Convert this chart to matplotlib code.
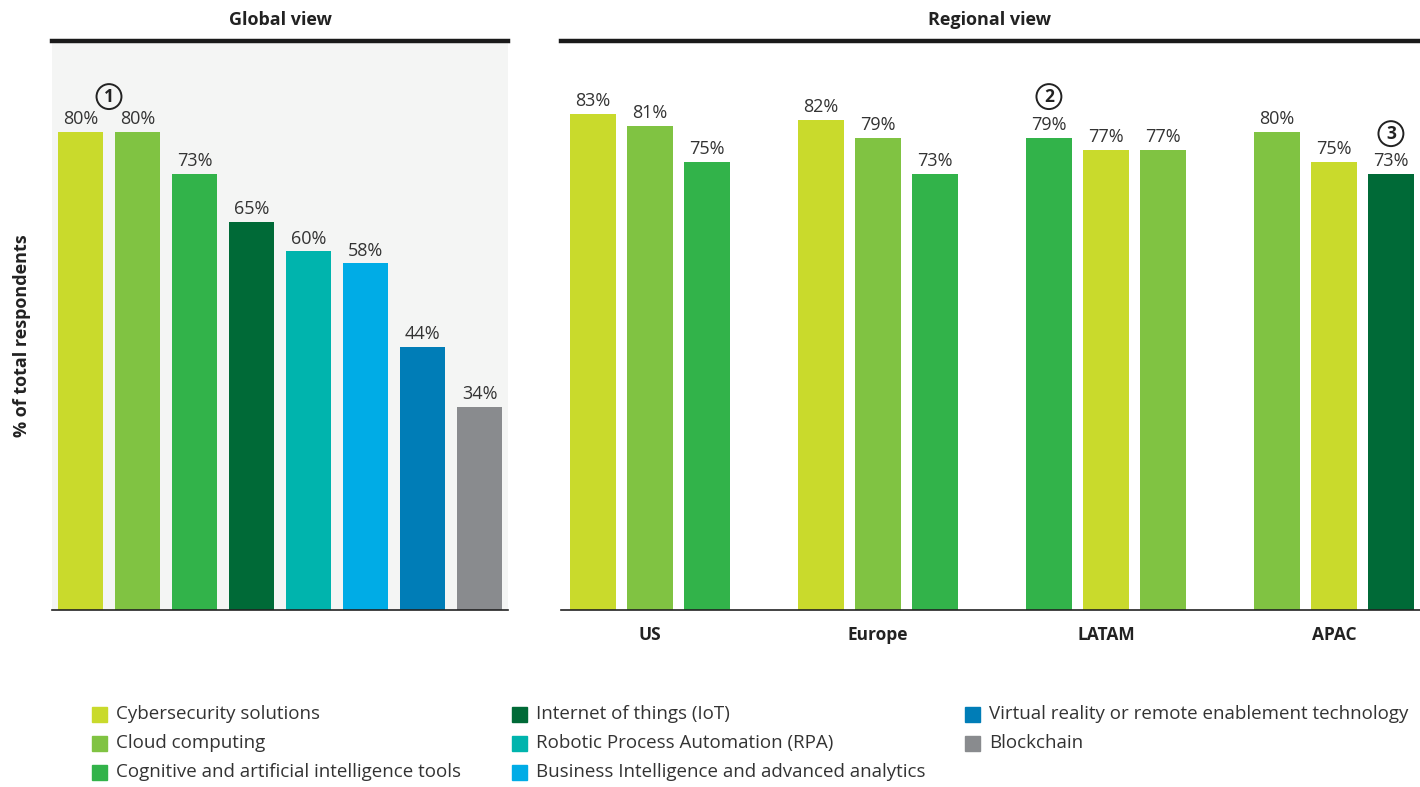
import matplotlib
matplotlib.use("Agg")
import matplotlib.pyplot as plt
from matplotlib.patches import Rectangle

plt.rcParams['font.family'] = ['Open Sans', 'DejaVu Sans']

# ---- data ----
categories = ["Cybersecurity solutions", "Cloud computing",
              "Cognitive and artificial intelligence tools",
              "Internet of things (IoT)", "Robotic Process Automation (RPA)",
              "Business Intelligence and advanced analytics",
              "Virtual reality or remote enablement technology", "Blockchain"]
colors = ["#C9DA2C", "#80C342", "#32B34A", "#006A37",
          "#00B4AD", "#00ACE6", "#007DB7", "#898B8E"]
global_values = [80, 80, 73, 65, 60, 58, 44, 34]

regions = ["US", "Europe", "LATAM", "APAC"]
region_cats = [[0, 1, 2], [0, 1, 2], [2, 0, 1], [1, 0, 3]]
region_values = [[83, 81, 75], [82, 79, 73], [79, 77, 77], [80, 75, 73]]

W, H = 1420, 787
fig = plt.figure(figsize=(W / 100, H / 100), dpi=100)

def fr(x0, y_top, x1, y_bot):
    return [x0 / W, 1 - y_bot / H, (x1 - x0) / W, (y_bot - y_top) / H]

txt_color = "#333333"
YMAX = 95.2
VFS = 13

# ---- global axes ----
ax1 = fig.add_axes(fr(52, 41, 508, 610))
ax1.set_facecolor("#F4F5F4")
xs = list(range(len(global_values)))
ax1.bar(xs, global_values, width=0.8, color=colors)
for x, v in zip(xs, global_values):
    ax1.text(x, v + 0.6, f"{v}%", ha="center", va="bottom", fontsize=VFS, color=txt_color)
ax1.set_xlim(-0.5, len(global_values) - 0.5)
ax1.set_ylim(0, YMAX)

# ---- regional axes ----
ax2 = fig.add_axes(fr(561, 41, 1420, 610))
pos_all = []
for g, (cats, vals) in enumerate(zip(region_cats, region_values)):
    pos = [g * 4 + k for k in range(3)]
    pos_all.append(pos)
    ax2.bar(pos, vals, width=0.8, color=[colors[c] for c in cats])
    for p, v in zip(pos, vals):
        ax2.text(p, v + 0.6, f"{v}%", ha="center", va="bottom", fontsize=VFS, color=txt_color)
    ax2.text(pos[1], -2.6, regions[g], ha="center", va="top", fontsize=12.5,
             fontweight="bold", color="#222222")
ax2.set_xlim(-0.56, 14.51)
ax2.set_ylim(0, YMAX)

for ax in (ax1, ax2):
    for s in ("left", "right"):
        ax.spines[s].set_visible(False)
    ax.spines["top"].set_linewidth(3.2)
    ax.spines["top"].set_color("#1a1a1a")
    ax.spines["bottom"].set_linewidth(1.2)
    ax.spines["bottom"].set_color("#222222")
    ax.set_xticks([])
    ax.set_yticks([])

fig.text(280 / W, 1 - 20 / H, "Global view", ha="center", va="center",
         fontsize=13, fontweight="bold", color="#222222")
fig.text(990 / W, 1 - 20 / H, "Regional view", ha="center", va="center",
         fontsize=13, fontweight="bold", color="#222222")

fig.text(22 / W, 1 - 336 / H, "% of total respondents", rotation=90, ha="center",
         va="center", fontsize=13, fontweight="bold", color="#222222")

# circled markers
circ = dict(boxstyle="circle,pad=0.2", fc="none", ec="#222222", lw=1.4)
ax1.text(0.5, 85.9, "1", ha="center", va="center", fontsize=12.5, fontweight="bold",
         color="#222222", bbox=circ)
ax2.text(pos_all[2][0], 85.9, "2", ha="center", va="center", fontsize=12.5, fontweight="bold",
         color="#222222", bbox=circ)
ax2.text(pos_all[3][2], 79.7, "3", ha="center", va="center", fontsize=12.5, fontweight="bold",
         color="#222222", bbox=circ)

# ---- legend (manual, 3 columns) ----
col_x = [92, 512, 965]
row_y = [714, 743, 772]
for i, (lab, c) in enumerate(zip(categories, colors)):
    col, row = i // 3, i % 3
    x, y = col_x[col], row_y[row]
    fig.patches.append(Rectangle((x / W, 1 - (y + 8) / H), 15 / W, 15 / H,
                                 transform=fig.transFigure, color=c))
    fig.text((x + 24) / W, 1 - y / H, lab, ha="left", va="center", fontsize=13.5,
             color=txt_color)

fig.savefig("out.png", dpi=100)
